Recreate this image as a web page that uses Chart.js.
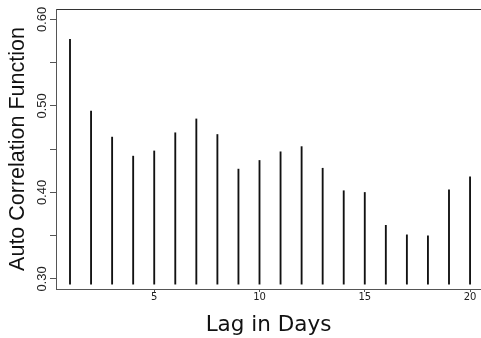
<!DOCTYPE html>
<html>
<head>
<meta charset="utf-8">
<script src="https://cdn.jsdelivr.net/npm/chart.js@4/dist/chart.umd.min.js"></script>
<style>
  html, body { margin: 0; padding: 0; background: #fff; overflow: hidden; }
  canvas { display: block; }
</style>
</head>
<body>
<canvas id="c" width="481" height="338"></canvas>
<script>
// Data
const lags = [1,2,3,4,5,6,7,8,9,10,11,12,13,14,15,16,17,18,19,20];
const acf  = [0.577,0.494,0.464,0.442,0.448,0.469,0.485,0.467,0.427,0.437,
              0.447,0.453,0.428,0.402,0.400,0.362,0.351,0.350,0.403,0.418];
const barBase = 0.294;
const xTickValues = [5,10,15,20];
const yLabelValues = [0.30,0.40,0.50,0.60];

const points = lags.map((l, i) => ({ x: l, y: [barBase, acf[i]] }));

new Chart(document.getElementById('c'), {
  type: 'bar',
  data: {
    datasets: [{
      data: points,
      backgroundColor: '#111',
      borderWidth: 0,
      barThickness: 1.2
    }]
  },
  options: {
    responsive: false,
    devicePixelRatio: 1,
    animation: false,
    events: [],
    layout: { padding: 0 },
    plugins: { legend: { display: false }, tooltip: { enabled: false } },
    scales: {
      x: {
        type: 'linear',
        position: 'bottom',
        offset: false,
        min: 0.335,
        max: 20.52,
        afterFit: s => { s.height = 49; },
        afterBuildTicks: s => { s.ticks = xTickValues.map(v => ({ value: v })); },
        ticks: {
          padding: -1,
          font: { family: 'DejaVu Sans', size: 10 },
          color: '#222',
          maxRotation: 0,
          minRotation: 0
        },
        grid: { drawOnChartArea: false, drawTicks: true, tickLength: 3, color: '#555', offset: false },
        border: { display: true, color: '#555', width: 1 },
        title: {
          display: true,
          text: 'Lag in Days',
          font: { family: 'DejaVu Sans', size: 21.5, lineHeight: 1.2 },
          color: '#111',
          padding: { top: 0, bottom: 0 }
        }
      },
      x2: {
        type: 'linear',
        position: 'top',
        offset: false,
        min: 0.335,
        max: 20.52,
        afterFit: s => { s.height = 9; },
        ticks: { display: false },
        grid: { drawOnChartArea: false, drawTicks: false, offset: false },
        border: { display: true, color: '#333', width: 1 }
      },
      y: {
        type: 'linear',
        min: 0.2884,
        max: 0.6121,
        afterFit: s => { s.width = 56; },
        ticks: {
          stepSize: 0.05,
          includeBounds: false,
          minRotation: 90,
          maxRotation: 90,
          crossAlign: 'center',
          padding: -4.7,
          font: { family: 'Liberation Sans', size: 13 },
          color: '#222',
          callback: v => {
            const hit = yLabelValues.find(t => Math.abs(t - v) < 1e-6);
            return hit !== undefined ? hit.toFixed(2) : '';
          }
        },
        grid: { drawOnChartArea: false, drawTicks: true, tickLength: 6, color: '#555' },
        border: { display: true, color: '#555', width: 1 },
        title: {
          display: true,
          text: 'Auto Correlation Function',
          font: { family: 'Liberation Sans', size: 21.5, lineHeight: 1.2 },
          color: '#111',
          padding: { top: 5, bottom: 0 }
        }
      }
    }
  }
});
</script>
</body>
</html>
